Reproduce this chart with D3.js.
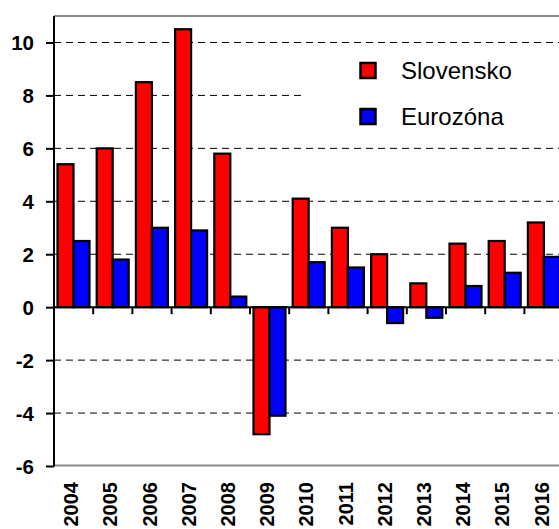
<!DOCTYPE html>
<html>
<head>
<meta charset="utf-8">
<script src="https://cdn.jsdelivr.net/npm/d3@7"></script>
<style>
  html, body { margin: 0; padding: 0; background: #fff; }
  svg { display: block; }
</style>
</head>
<body>
<svg id="chart" width="559" height="529"></svg>
<script>
const years = ["2004","2005","2006","2007","2008","2009","2010","2011","2012","2013","2014","2015","2016"];
const slovensko = [5.4, 6.0, 8.5, 10.5, 5.8, -4.8, 4.1, 3.0, 2.0, 0.9, 2.4, 2.5, 3.2];
const eurozona  = [2.5, 1.8, 3.0, 2.9, 0.4, -4.1, 1.7, 1.5, -0.6, -0.4, 0.8, 1.3, 1.9];
const seriesNames = ["Slovensko", "Eurozóna"];
const seriesColors = ["#FF0000", "#0000FF"];
const yTicks = [-6, -4, -2, 0, 2, 4, 6, 8, 10];
const gridValues = [-4, -2, 2, 4, 6, 8, 10];

(function () {
const svg = d3.select("#chart");
const pLeft = 54, pTop = 16, pBottom = 465.5;
const bandW = 39.2;
const pRight = pLeft + years.length * bandW;
const FONT = "Arial, 'Liberation Sans', sans-serif";

const y = d3.scaleLinear().domain([-6, 11]).range([pBottom + 0.5, pTop]);
const x = d3.scaleBand().domain(years).range([pLeft, pRight]).paddingInner(0).paddingOuter(0);
const x1 = d3.scaleBand().domain(seriesNames).range([3.5, 35.5]);

// plot border (gray)
svg.append("line").attr("x1", pLeft).attr("x2", 600).attr("y1", pTop).attr("y2", pTop)
  .attr("stroke", "#8a8a8a").attr("stroke-width", 2);
svg.append("line").attr("x1", pLeft).attr("x2", 600).attr("y1", pBottom).attr("y2", pBottom)
  .attr("stroke", "#8a8a8a").attr("stroke-width", 2);

// gridlines
svg.append("g").selectAll("line").data(gridValues).join("line")
  .attr("x1", pLeft).attr("x2", 600)
  .attr("y1", d => y(d)).attr("y2", d => y(d))
  .attr("stroke", "#000").attr("stroke-width", 1)
  .attr("stroke-dasharray", "7,5");

// legend background
svg.append("rect").attr("x", 306).attr("y", 52).attr("width", 300).attr("height", 88).attr("fill", "#fff");

// bars
const data = years.map((yr, i) => ({ yr, vals: [slovensko[i], eurozona[i]] }));
const groups = svg.append("g").selectAll("g").data(data).join("g")
  .attr("transform", d => `translate(${x(d.yr)},0)`);
groups.selectAll("rect").data(d => d.vals.map((v, j) => ({ v, j }))).join("rect")
  .attr("x", d => x1(seriesNames[d.j]))
  .attr("width", x1.bandwidth())
  .attr("y", d => Math.min(y(d.v), y(0)))
  .attr("height", d => Math.abs(y(d.v) - y(0)))
  .attr("fill", d => seriesColors[d.j])
  .attr("stroke", "#000").attr("stroke-width", 2.2);

// zero line (x axis)
svg.append("line").attr("x1", pLeft).attr("x2", 600).attr("y1", y(0)).attr("y2", y(0))
  .attr("stroke", "#000").attr("stroke-width", 2);
// x ticks at band boundaries
svg.append("g").selectAll("line").data(years.slice(1)).join("line")
  .attr("x1", d => x(d)).attr("x2", d => x(d))
  .attr("y1", y(0)).attr("y2", y(0) + 7)
  .attr("stroke", "#000").attr("stroke-width", 2);

// y axis
const yAxis = d3.axisLeft(y).tickValues(yTicks).tickSize(8).tickPadding(12).tickFormat(d => String(d));
const gy = svg.append("g").attr("transform", `translate(${pLeft},0)`).call(yAxis);
gy.attr("font-family", FONT).attr("font-size", 20.5).attr("font-weight", "bold");
gy.select(".domain").attr("stroke", "#000").attr("stroke-width", 2)
  .attr("d", `M0,${pTop}V${pBottom + 1}`);
gy.selectAll(".tick line").attr("stroke", "#000").attr("stroke-width", 2);
gy.selectAll(".tick text").attr("fill", "#000").attr("dy", "0.36em");

// x labels
svg.append("g").selectAll("text").data(years).join("text")
  .attr("transform", d => `translate(${x(d) + x.bandwidth() / 2 - 2.5},482) rotate(-90)`)
  .attr("text-anchor", "end")
  .attr("dy", "0.35em")
  .attr("font-family", FONT)
  .attr("font-size", 20).attr("font-weight", "bold").attr("fill", "#000")
  .text(d => d);

// legend
const lg = svg.append("g").selectAll("g").data(seriesNames).join("g")
  .attr("transform", (d, i) => `translate(360.5,${63 + i * 46})`);
lg.append("rect").attr("width", 15).attr("height", 15)
  .attr("fill", (d, i) => seriesColors[i]).attr("stroke", "#000").attr("stroke-width", 2.5);
lg.append("text").attr("x", 40.5).attr("y", 16)
  .attr("font-family", FONT)
  .attr("font-size", 24).attr("fill", "#000")
  .text(d => d);
})();
</script>
</body>
</html>
